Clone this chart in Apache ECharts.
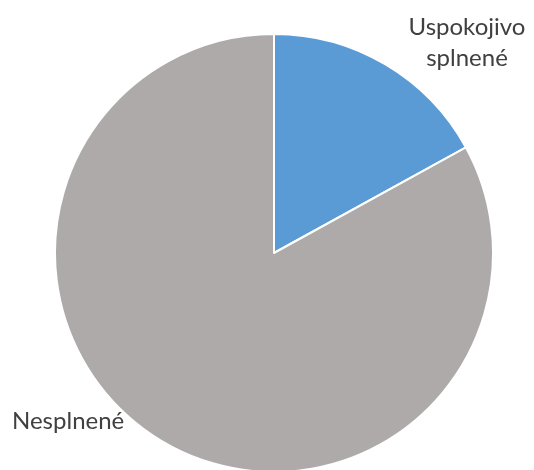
<!DOCTYPE html>
<html><head><meta charset="utf-8">
<script src="https://cdn.jsdelivr.net/npm/echarts@6/dist/echarts.min.js"></script>
<style>html,body{margin:0;padding:0;background:#fff}#c{width:534px;height:470px}</style>
</head><body><div id="c"></div>
<script>
const categories = ['Uspokojivo\nsplnené', 'Nesplnené'];
const values = [17, 83];
const colors = ['#5B9BD5', '#AEAAAA'];

const chart = echarts.init(document.getElementById('c'));
chart.setOption({
  animation: false,
  series: [{
    type: 'pie',
    center: [274, 253],
    radius: [0, 219],
    startAngle: 90,
    clockwise: true,
    data: categories.map((n, i) => ({ name: n, value: values[i], itemStyle: { color: colors[i] } })),
    itemStyle: { borderColor: '#fff', borderWidth: 2 },
    label: {
      show: true,
      position: 'outside',
      formatter: '{b}',
      color: '#404040',
      fontFamily: 'Lato',
      fontSize: 24,
      lineHeight: 31,
      align: 'center',
      overflow: 'none',
      width: 200
    },
    labelLine: { show: false },
    labelLayout: function (p) {
      if (p.dataIndex === 0) return { x: 467, y: 43, align: 'center', verticalAlign: 'middle' };
      return { x: 12, y: 421, align: 'left', verticalAlign: 'middle' };
    }
  }]
});
</script></body></html>
